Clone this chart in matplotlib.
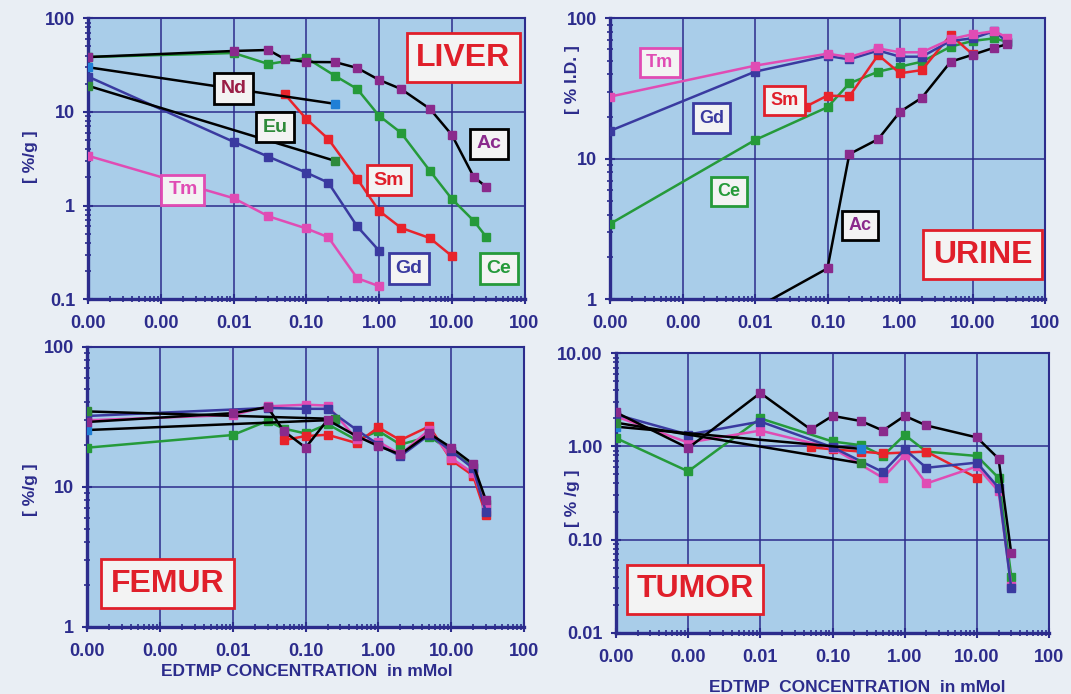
import matplotlib
matplotlib.use("Agg")
import matplotlib.pyplot as plt
from matplotlib.ticker import FixedLocator, NullFormatter, LogLocator

# ---------------- DATA ----------------
x_ticks = [0.0001, 0.001, 0.01, 0.1, 1, 10, 100]
x_tick_labels = ["0.00", "0.00", "0.01", "0.10", "1.00", "10.00", "100"]

# LIVER
liver_ac_x = [0.0001, 0.01, 0.03, 0.05, 0.1, 0.25, 0.5, 1, 2, 5, 10, 20, 30]
liver_ac_y = [38.6, 44.8, 45.9, 36.8, 34.2, 34, 29.5, 22, 17.6, 10.8, 5.7, 2.03, 1.58]
liver_ce_x = [0.0001, 0.01, 0.03, 0.1, 0.25, 0.5, 1, 2, 5, 10, 20, 30]
liver_ce_y = [38.6, 42.6, 32.5, 37.7, 24.2, 17.6, 9.1, 6.0, 2.35, 1.18, 0.69, 0.46]
liver_nd_x = [0.0001, 0.25]
liver_nd_y = [30, 12.2]
liver_eu_x = [0.0001, 0.25]
liver_eu_y = [19, 3.0]
liver_gd_x = [0.0001, 0.01, 0.03, 0.1, 0.2, 0.5, 1]
liver_gd_y = [23.8, 4.8, 3.33, 2.25, 1.76, 0.6, 0.33]
liver_tm_x = [0.0001, 0.01, 0.03, 0.1, 0.2, 0.5, 1]
liver_tm_y = [3.4, 1.2, 0.77, 0.57, 0.46, 0.168, 0.138]
liver_sm_x = [0.05, 0.1, 0.2, 0.5, 1, 2, 5, 10]
liver_sm_y = [15.6, 8.4, 5.15, 1.93, 0.88, 0.58, 0.45, 0.29]

# URINE
urine_x = [0.0001, 0.01, 0.1, 0.2, 0.5, 1, 2, 5, 10, 20, 30]
urine_tm_y = [27.7, 46, 56, 53, 61, 57.3, 57.3, 71, 77, 81, 73]
urine_gd_y = [15.8, 41.7, 54, 51, 59, 53.3, 53.3, 69, 72, 81, 68]
urine_ce_y = [3.44, 13.6, 23.3, 34.4, 41.7, 45.3, 49.1, 62.8, 69, 72, 68]
urine_sm_x = [0.05, 0.1, 0.2, 0.5, 1, 2, 5, 10]
urine_sm_y = [23.5, 28.2, 27.8, 54.8, 40.6, 42.8, 76, 55.5]
urine_ac_x = [0.01, 0.1, 0.2, 0.5, 1, 2, 5, 10, 20, 30]
urine_ac_y = [0.86, 1.66, 10.8, 13.8, 21.6, 27.2, 49.1, 55, 61.8, 65.3]

# FEMUR
femur_ac_x = [0.0001, 0.01, 0.03, 0.05, 0.1, 0.2, 0.5, 1, 2, 5, 10, 20, 30]
femur_ac_y = [29, 33.5, 37, 25, 19, 30, 23, 19.5, 17, 24, 19, 14.5, 8.0]
femur_gd_x = [0.0001, 0.03, 0.1, 0.2, 0.5, 1, 2, 5, 10, 20, 30]
femur_gd_y = [32, 36.5, 36, 36, 25.5, 20, 16.5, 23.5, 18, 13.5, 6.6]
femur_tm_x = [0.0001, 0.01, 0.03, 0.1, 0.2, 0.5, 1, 2, 5, 10, 20, 30]
femur_tm_y = [29.8, 32.5, 37.5, 38.5, 38, 22, 21, 17, 25.5, 16, 12.5, 7.2]
femur_sm_x = [0.05, 0.1, 0.2, 0.5, 1, 2, 5, 10, 20, 30]
femur_sm_y = [21.5, 23, 23.5, 20.5, 26.5, 21.5, 27, 15.5, 12, 6.3]
femur_ce_x = [0.0001, 0.01, 0.03, 0.05, 0.1, 0.2, 0.5, 1, 2, 5, 10, 20, 30]
femur_ce_y = [19, 23.4, 29.5, 26, 24, 28, 21.5, 25, 20, 22.8, 18, 13.8, 7.5]
femur_nd_x = [0.0001, 0.25]
femur_nd_y = [25.4, 30]
femur_eu_x = [0.0001, 0.25]
femur_eu_y = [34.5, 30.5]

# TUMOR
tumor_ac_x = [0.0001, 0.001, 0.01, 0.05, 0.1, 0.25, 0.5, 1, 2, 10, 20, 30]
tumor_ac_y = [2.32, 0.96, 3.75, 1.52, 2.13, 1.87, 1.48, 2.13, 1.68, 1.25, 0.74, 0.071]
tumor_gd_x = [0.0001, 0.001, 0.01, 0.1, 0.5, 1, 2, 10, 20, 30]
tumor_gd_y = [2.2, 1.34, 1.85, 0.98, 0.53, 0.93, 0.59, 0.67, 0.36, 0.030]
tumor_tm_x = [0.0001, 0.001, 0.01, 0.1, 0.5, 1, 2, 10, 20, 30]
tumor_tm_y = [2.1, 1.1, 1.48, 0.96, 0.46, 0.81, 0.40, 0.61, 0.33, 0.032]
tumor_ce_x = [0.0001, 0.001, 0.01, 0.1, 0.25, 0.5, 1, 2, 10, 20, 30]
tumor_ce_y = [1.23, 0.54, 2.0, 1.13, 1.03, 0.79, 1.33, 0.88, 0.79, 0.46, 0.040]
tumor_sm_x = [0.05, 0.1, 0.25, 0.5, 1, 2, 10]
tumor_sm_y = [0.98, 0.93, 0.88, 0.84, 0.86, 0.88, 0.46]
tumor_nd_x = [0.0001, 0.25]
tumor_nd_y = [1.63, 0.94]
tumor_eu_x = [0.0001, 0.25]
tumor_eu_y = [1.8, 0.66]

# ---------------- STYLE ----------------
NAVY = "#2c2c8c"
BG = "#e9eef4"
PLOT_BG = "#a9cde9"
C_AC_M = "#8a2a8c"
C_ND_M = "#1f7fd6"
C_EU_M = "#2e8a3a"
C_CE = "#259a3a"
C_SM = "#e8232b"
C_GD = "#3a3aa0"
C_TM = "#e04cb4"
RED_TXT = "#e01f2a"

plt.rcParams["font.family"] = ["Liberation Sans", "DejaVu Sans"]

fig = plt.figure(figsize=(10.71, 6.94), dpi=100, facecolor=BG)

W, H = 1071.0, 694.0
def make_ax(x0, x1, y0, y1):
    return fig.add_axes([x0 / W, 1 - y1 / H, (x1 - x0) / W, (y1 - y0) / H])

ax_liver = make_ax(88.3, 524.5, 18.3, 299.3)
ax_urine = make_ax(610, 1045, 18.3, 299.3)
ax_femur = make_ax(87.3, 524, 346.7, 626.7)
ax_tumor = make_ax(616, 1049, 353.3, 632.7)


def style(ax, ylim, yticks, ylabels):
    ax.set_facecolor(PLOT_BG)
    ax.set_xscale("log")
    ax.set_yscale("log")
    ax.set_xlim(0.0001, 100)
    ax.set_ylim(*ylim)
    ax.xaxis.set_major_locator(FixedLocator(x_ticks))
    ax.set_xticklabels(x_tick_labels)
    ax.xaxis.set_minor_locator(LogLocator(base=10, subs=range(2, 10), numticks=20))
    ax.xaxis.set_minor_formatter(NullFormatter())
    ax.yaxis.set_major_locator(FixedLocator(yticks))
    ax.set_yticklabels(ylabels)
    ax.yaxis.set_minor_locator(LogLocator(base=10, subs=range(2, 10), numticks=20))
    ax.yaxis.set_minor_formatter(NullFormatter())
    ax.grid(True, which="major", color=NAVY, lw=1.1)
    ax.set_axisbelow(True)
    for s in ax.spines.values():
        s.set_color(NAVY)
        s.set_linewidth(1.5)
    ax.spines["left"].set_linewidth(2.4)
    ax.spines["bottom"].set_linewidth(2.4)
    ax.tick_params(which="major", direction="inout", length=7, width=1.5,
                   color=NAVY, labelcolor=NAVY, labelsize=13, pad=6)
    ax.tick_params(axis="x", which="major", pad=8)
    ax.tick_params(which="minor", direction="inout", length=4, width=1.2, color=NAVY)
    for lab in ax.get_xticklabels() + ax.get_yticklabels():
        lab.set_fontweight("bold")


def series(ax, x, y, lc, mc, z=3):
    ax.plot(x, y, color=lc, lw=1.8, marker="s", ms=5.5, mfc=mc, mec=mc, zorder=z)


def tag(ax, fx, fy, text, tc, ec, fs=14, pad=0.35):
    ax.text(fx, fy, text, transform=ax.transAxes, ha="center", va="center",
            fontsize=fs, fontweight="bold", color=tc, zorder=10,
            bbox=dict(boxstyle="square,pad=%.2f" % pad, fc="#f3f3f3", ec=ec, lw=2))

# LIVER
style(ax_liver, (0.1, 100), [0.1, 1, 10, 100], ["0.1", "1", "10", "100"])
series(ax_liver, liver_ce_x, liver_ce_y, C_CE, C_CE)
series(ax_liver, liver_sm_x, liver_sm_y, C_SM, C_SM)
series(ax_liver, liver_gd_x, liver_gd_y, C_GD, C_GD)
series(ax_liver, liver_tm_x, liver_tm_y, C_TM, C_TM)
series(ax_liver, liver_nd_x, liver_nd_y, "black", C_ND_M)
series(ax_liver, liver_eu_x, liver_eu_y, "black", C_EU_M)
series(ax_liver, liver_ac_x, liver_ac_y, "black", C_AC_M)
tag(ax_liver, 0.860, 0.860, "LIVER", RED_TXT, RED_TXT, fs=23, pad=0.3)
tag(ax_liver, 0.333, 0.750, "Nd", "#9a1e46", "black")
tag(ax_liver, 0.428, 0.613, "Eu", C_EU_M, "black")
tag(ax_liver, 0.919, 0.553, "Ac", C_AC_M, "black")
tag(ax_liver, 0.689, 0.424, "Sm", RED_TXT, RED_TXT)
tag(ax_liver, 0.217, 0.389, "Tm", C_TM, C_TM)
tag(ax_liver, 0.735, 0.109, "Gd", C_GD, C_GD)
tag(ax_liver, 0.941, 0.109, "Ce", C_CE, C_CE)

# URINE
style(ax_urine, (1, 100), [1, 10, 100], ["1", "10", "100"])
series(ax_urine, urine_x, urine_ce_y, C_CE, C_CE)
series(ax_urine, urine_sm_x, urine_sm_y, C_SM, C_SM)
series(ax_urine, urine_x, urine_gd_y, C_GD, C_GD)
series(ax_urine, urine_x, urine_tm_y, C_TM, C_TM)
series(ax_urine, urine_ac_x, urine_ac_y, "black", C_AC_M)
tag(ax_urine, 0.857, 0.158, "URINE", RED_TXT, RED_TXT, fs=23, pad=0.3)
tag(ax_urine, 0.114, 0.843, "Tm", C_TM, C_TM, fs=13)
tag(ax_urine, 0.233, 0.645, "Gd", C_GD, C_GD, fs=13)
tag(ax_urine, 0.401, 0.707, "Sm", RED_TXT, RED_TXT, fs=13)
tag(ax_urine, 0.274, 0.384, "Ce", C_CE, C_CE, fs=13)
tag(ax_urine, 0.574, 0.263, "Ac", C_AC_M, "black", fs=13)

# FEMUR
style(ax_femur, (1, 100), [1, 10, 100], ["1", "10", "100"])
series(ax_femur, femur_ce_x, femur_ce_y, C_CE, C_CE)
series(ax_femur, femur_sm_x, femur_sm_y, C_SM, C_SM)
series(ax_femur, femur_tm_x, femur_tm_y, C_TM, C_TM)
series(ax_femur, femur_gd_x, femur_gd_y, C_GD, C_GD)
series(ax_femur, femur_nd_x, femur_nd_y, "black", C_ND_M)
series(ax_femur, femur_eu_x, femur_eu_y, "black", C_EU_M)
series(ax_femur, femur_ac_x, femur_ac_y, "black", C_AC_M)
tag(ax_femur, 0.184, 0.154, "FEMUR", RED_TXT, RED_TXT, fs=23, pad=0.3)

# TUMOR
style(ax_tumor, (0.01, 10), [0.01, 0.1, 1, 10], ["0.01", "0.10", "1.00", "10.00"])
series(ax_tumor, tumor_ce_x, tumor_ce_y, C_CE, C_CE)
series(ax_tumor, tumor_sm_x, tumor_sm_y, C_SM, C_SM)
series(ax_tumor, tumor_tm_x, tumor_tm_y, C_TM, C_TM)
series(ax_tumor, tumor_gd_x, tumor_gd_y, C_GD, C_GD)
series(ax_tumor, tumor_nd_x, tumor_nd_y, "black", C_ND_M)
series(ax_tumor, tumor_eu_x, tumor_eu_y, "black", C_EU_M)
series(ax_tumor, tumor_ac_x, tumor_ac_y, "black", C_AC_M)
tag(ax_tumor, 0.182, 0.156, "TUMOR", RED_TXT, RED_TXT, fs=23, pad=0.3)

# axis titles
yl = dict(rotation=90, ha="center", va="center", fontsize=12.5, fontweight="bold", color=NAVY)
fig.text(30 / W, 1 - 157 / H, "[ %/g ]", **yl)
fig.text(572 / W, 1 - 80 / H, "[ % I.D. ]", **yl)
fig.text(30 / W, 1 - 490 / H, "[ %/g ]", **yl)
fig.text(573 / W, 1 - 498 / H, "[ % /g ]", **yl)
xl = dict(ha="center", va="center", fontsize=12.5, fontweight="bold", color=NAVY)
fig.text(307 / W, 1 - 672 / H, "EDTMP CONCENTRATION  in mMol", **xl)
fig.text(857 / W, 1 - 688 / H, "EDTMP  CONCENTRATION  in mMol", **xl)

fig.savefig("out.png", dpi=100, facecolor=BG)
